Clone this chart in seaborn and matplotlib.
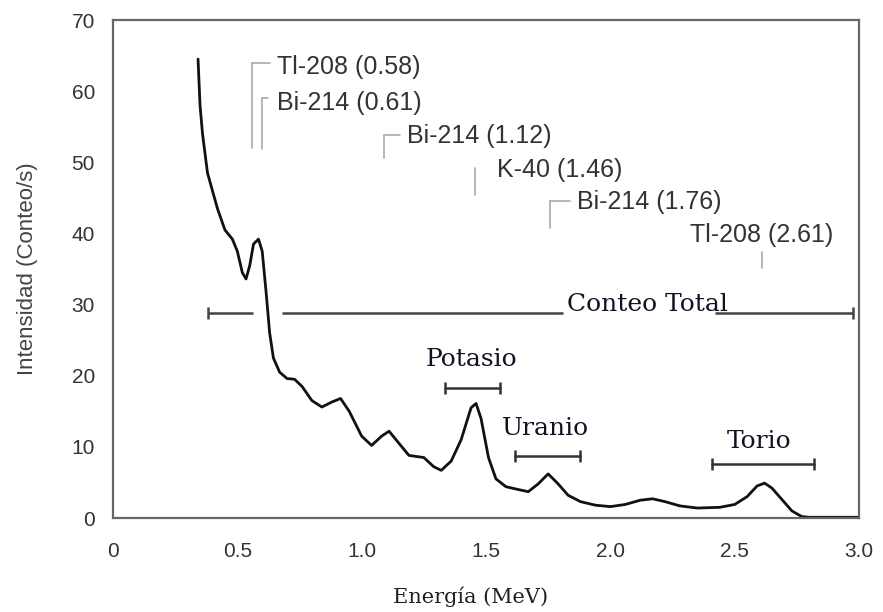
import matplotlib
matplotlib.use("Agg")
import matplotlib.pyplot as plt
import seaborn as sns
import pandas as pd

# ---- data ----
energy = [0.342, 0.35, 0.36, 0.38, 0.40, 0.42, 0.45, 0.48, 0.50, 0.52, 0.535, 0.55,
          0.565, 0.585, 0.60, 0.615, 0.63, 0.645, 0.67, 0.70, 0.73, 0.76, 0.80, 0.84,
          0.88, 0.915, 0.95, 1.00, 1.04, 1.08, 1.11, 1.15, 1.19, 1.25, 1.29, 1.32,
          1.36, 1.40, 1.44, 1.46, 1.48, 1.51, 1.54, 1.58, 1.63, 1.67, 1.71, 1.75,
          1.79, 1.83, 1.88, 1.94, 2.00, 2.06, 2.12, 2.17, 2.22, 2.28, 2.35, 2.44,
          2.50, 2.55, 2.59, 2.62, 2.65, 2.69, 2.73, 2.77, 2.80, 3.00]
intensity = [64.5, 58.0, 54.0, 48.5, 46.0, 43.5, 40.5, 39.2, 37.5, 34.5, 33.6, 35.5,
             38.5, 39.2, 37.5, 32.0, 26.0, 22.5, 20.5, 19.6, 19.5, 18.5, 16.5, 15.6,
             16.3, 16.8, 15.0, 11.5, 10.2, 11.5, 12.2, 10.5, 8.8, 8.5, 7.2, 6.7,
             8.0, 11.0, 15.5, 16.1, 14.0, 8.5, 5.5, 4.4, 4.0, 3.7, 4.8, 6.2,
             4.8, 3.2, 2.3, 1.8, 1.6, 1.9, 2.5, 2.7, 2.3, 1.7, 1.4, 1.5,
             1.9, 3.0, 4.5, 4.9, 4.2, 2.6, 1.0, 0.2, 0.1, 0.1]

x_ticks = [0, 0.5, 1.0, 1.5, 2.0, 2.5, 3.0]
x_tick_labels = ["0", "0.5", "1.0", "1.5", "2.0", "2.5", "3.0"]
y_ticks = [0, 10, 20, 30, 40, 50, 60, 70]

# isotope annotations
iso_labels = ["Tl-208 (0.58)", "Bi-214 (0.61)", "Bi-214 (1.12)", "K-40 (1.46)",
              "Bi-214 (1.76)", "Tl-208 (2.61)"]
iso_text_x = [0.66, 0.66, 1.182, 1.544, 1.866, 2.32]
iso_text_y = [63.4, 58.4, 53.7, 48.9, 44.4, 39.8]
iso_line_x = [0.559, 0.599, 1.09, 1.456, 1.757, 2.61]
iso_line_top = [64.0, 59.1, 53.9, 49.2, 44.6, 37.4]
iso_line_bot = [52.0, 51.8, 50.6, 45.4, 40.8, 35.2]
iso_hook_end = [0.631, 0.623, 1.154, None, 1.838, None]

# energy windows
win_labels = ["Potasio", "Uranio", "Torio"]
win_start = [1.335, 1.616, 2.41]
win_end = [1.556, 1.878, 2.82]
win_y = [18.3, 8.7, 7.6]
win_text_x = [1.44, 1.741, 2.60]
win_text_y = [21.4, 11.7, 9.85]

total_label = "Conteo Total"
total_start, total_end, total_y = 0.382, 2.975, 28.8
total_gaps = [(0.563, 0.68), (1.81, 2.42)]

# ---- plot ----
sns.set_style("white")
plt.rcParams["font.family"] = ["Liberation Sans", "DejaVu Sans"]
SERIF = ["DejaVu Serif", "Liberation Serif"]

fig = plt.figure(figsize=(8.83, 6.12), dpi=100)
ax = fig.add_axes([113 / 883, 1 - 518 / 612, (859 - 113) / 883, (518 - 20) / 612])

df = pd.DataFrame({"Energía": energy, "Intensidad": intensity})
sns.lineplot(data=df, x="Energía", y="Intensidad", ax=ax, color="#111111",
             linewidth=2.0, sort=False)

ax.set_xlim(0, 3.0)
ax.set_ylim(0, 70)
ax.set_xticks(x_ticks)
ax.set_xticklabels(x_tick_labels)
ax.set_yticks(y_ticks)
ax.tick_params(axis="both", labelsize=15, colors="#333333", length=4, width=0.8,
               direction="out")
ax.tick_params(axis="both", color="#bbbbbb")
ax.tick_params(axis="x", pad=13)
ax.tick_params(axis="y", pad=9)
for s in ax.spines.values():
    s.set_color("#666666")
    s.set_linewidth(1.6)

ax.set_ylabel("Intensidad (Conteo/s)", fontsize=16, color="#444444", va="center")
ax.yaxis.set_label_coords(-0.114, 0.5)
ax.set_xlabel("Energía (MeV)", fontsize=15, color="#222222", family=SERIF, va="center")
ax.xaxis.set_label_coords(0.479, -0.159)

# isotope annotations
for lab, tx, ty, lx, lt, lb, he in zip(iso_labels, iso_text_x, iso_text_y, iso_line_x,
                                        iso_line_top, iso_line_bot, iso_hook_end):
    ax.plot([lx, lx], [lt, lb], color="#aaaaaa", lw=1.2)
    if he is not None:
        ax.plot([lx, he], [lt, lt], color="#aaaaaa", lw=1.2)
    ax.text(tx, ty, lab, fontsize=18, color="#333333", va="center", ha="left")

# total count line
segs = []
cur = total_start
for g0, g1 in total_gaps:
    segs.append((cur, g0))
    cur = g1
segs.append((cur, total_end))
for a, b in segs:
    ax.plot([a, b], [total_y, total_y], color="#444444", lw=1.8, solid_capstyle="butt")
ax.plot([total_start, total_end], [total_y, total_y], ls="none", marker="|",
        markersize=9, markeredgewidth=1.8, color="#444444")
ax.text(1.825, total_y + 0.3, total_label, fontsize=18, color="#111122",
        ha="left", va="baseline", family=SERIF)

# energy windows
for lab, a, b, yy, tx, ty in zip(win_labels, win_start, win_end, win_y, win_text_x, win_text_y):
    ax.plot([a, b], [yy, yy], color="#333333", lw=1.8)
    ax.plot([a, b], [yy, yy], ls="none", marker="|", markersize=9,
            markeredgewidth=1.8, color="#333333")
    ax.text(tx, ty, lab, fontsize=18, color="#111122", ha="center", va="baseline",
            family=SERIF)

fig.savefig("out.png", dpi=100)
